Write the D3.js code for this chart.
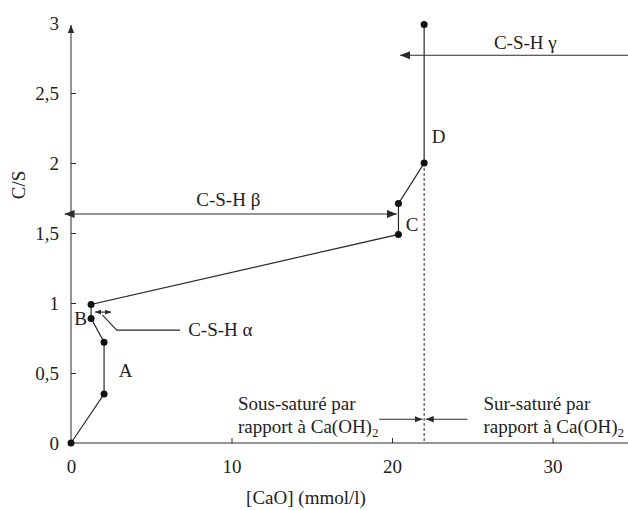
<!DOCTYPE html>
<html>
<head>
<meta charset="utf-8">
<script src="https://cdn.jsdelivr.net/npm/d3@7"></script>
<style>
  body { margin: 0; background: #fff; }
  text { font-family: "Liberation Serif", "Times New Roman", serif; fill: #222; }
</style>
</head>
<body>
<div id="chart"></div>
<script>
// C/S ratio vs [CaO] concentration
var caoValues = [0, 2.06, 2.06, 1.25, 1.25, 20.4, 20.4, 22.0, 22.0];
var csValues = [0, 0.35, 0.72, 0.89, 0.99, 1.49, 1.71, 2.0, 2.99];

var xTicks = [0, 10, 20, 30];
var yTicks = [0.5, 1, 1.5, 2, 2.5, 3];
var yTickLabels = ["0,5", "1", "1,5", "2", "2,5", "3"];

var zoneLabels = ["A", "B", "C", "D"];
var zoneX = [3.4, 0.6, 21.25, 22.9];
var zoneY = [0.52, 0.89, 1.56, 2.19];

var saturationLimit = 22.0;

var svgWidth = 628, svgHeight = 510;
var svg = d3.select("#chart").append("svg")
    .attr("width", svgWidth)
    .attr("height", svgHeight);

var x = d3.scaleLinear().domain([0, 34.7]).range([71, 628]);
var y = d3.scaleLinear().domain([0, 3]).range([443, 23]);

var ink = "#2a2a2a";
var fs = "19px";

// markers
var defs = svg.append("defs");
function marker(id, size) {
    defs.append("marker")
        .attr("id", id)
        .attr("viewBox", "0 0 10 10")
        .attr("refX", 10).attr("refY", 5)
        .attr("markerWidth", size).attr("markerHeight", size)
        .attr("markerUnits", "userSpaceOnUse")
        .attr("orient", "auto-start-reverse")
        .append("path")
        .attr("d", "M0,1 L10,5 L0,9 Z")
        .attr("fill", ink);
}
marker("arr", 10);
marker("arrSmall", 8);
marker("arrTiny", 6);

// axes
var xAxis = svg.append("g")
    .attr("transform", "translate(0," + y(0) + ")")
    .call(d3.axisBottom(x).tickValues(xTicks).tickSize(0).tickPadding(17).tickFormat(d3.format("d")));
xAxis.select(".domain").attr("d", "M" + x(0) + ",0H" + svgWidth).attr("stroke", ink);
xAxis.selectAll("text").style("font-size", fs).attr("fill", ink);
xAxis.selectAll(".tick").filter(function(d) { return d > 0; }).append("line")
    .attr("y1", 0).attr("y2", -5).attr("stroke", ink);

var yAxis = svg.append("g")
    .attr("transform", "translate(" + x(0) + ",0)")
    .call(d3.axisLeft(y).tickValues([0].concat(yTicks)).tickSize(0).tickPadding(12)
        .tickFormat(function(d, i) { return i === 0 ? "0" : yTickLabels[i - 1]; }));
yAxis.select(".domain").attr("d", "M0," + y(0) + "V" + (y(3) + 2)).attr("stroke", ink)
    .attr("marker-end", "url(#arrSmall)");
yAxis.selectAll("text").style("font-size", fs).attr("fill", ink);
yAxis.selectAll(".tick").filter(function(d) { return d > 0 && d < 3; }).append("line")
    .attr("x1", 0).attr("x2", 5).attr("stroke", ink);

svg.append("text")
    .attr("x", 306)
    .attr("y", 504)
    .attr("text-anchor", "middle")
    .style("font-size", fs)
    .text("[CaO] (mmol/l)");

svg.append("text")
    .attr("transform", "translate(25," + 185 + ") rotate(-90)")
    .attr("text-anchor", "middle")
    .style("font-size", fs)
    .text("C/S");

// saturation limit
svg.append("line")
    .attr("x1", x(saturationLimit)).attr("x2", x(saturationLimit))
    .attr("y1", y(2.0)).attr("y2", y(0))
    .attr("stroke", ink).attr("stroke-dasharray", "3,2");

// curve
var pts = caoValues.map(function(d, i) { return [d, csValues[i]]; });
svg.append("path")
    .datum(pts)
    .attr("fill", "none")
    .attr("stroke", ink)
    .attr("stroke-width", 1.2)
    .attr("d", d3.line().x(function(d) { return x(d[0]); }).y(function(d) { return y(d[1]); }));

svg.selectAll("circle.pt")
    .data(pts)
    .enter().append("circle")
    .attr("class", "pt")
    .attr("cx", function(d) { return x(d[0]); })
    .attr("cy", function(d) { return y(d[1]); })
    .attr("r", 3.5)
    .attr("fill", "#111");

// zone letters
svg.selectAll("text.zone")
    .data(zoneLabels)
    .enter().append("text")
    .attr("class", "zone")
    .attr("x", function(d, i) { return x(zoneX[i]); })
    .attr("y", function(d, i) { return y(zoneY[i]); })
    .attr("text-anchor", "middle")
    .attr("dy", "0.35em")
    .style("font-size", fs)
    .text(function(d) { return d; });

function arrowLine(x1, y1, x2, y2, start, end, mk) {
    var l = svg.append("line")
        .attr("x1", x(x1)).attr("y1", y(y1))
        .attr("x2", x(x2)).attr("y2", y(y2))
        .attr("stroke", ink).attr("stroke-width", 1.1);
    if (start) l.attr("marker-start", "url(#" + mk + ")");
    if (end) l.attr("marker-end", "url(#" + mk + ")");
}

// C-S-H gamma
arrowLine(34.7, 2.77, 20.5, 2.77, false, true, "arr");
svg.append("text").attr("x", x(28.3)).attr("y", y(2.77) - 6)
    .attr("text-anchor", "middle").style("font-size", fs).text("C-S-H γ");

// C-S-H beta
arrowLine(-0.4, 1.636, 20.3, 1.636, true, true, "arr");
svg.append("text").attr("x", x(9.8)).attr("y", y(1.636) - 8)
    .attr("text-anchor", "middle").style("font-size", fs).text("C-S-H β");

// C-S-H alpha
arrowLine(1.5, 0.935, 2.5, 0.935, true, true, "arrTiny");
svg.append("path")
    .attr("d", "M" + x(1.95) + "," + y(0.915) + "L" + x(2.85) + "," + y(0.806) + "H" + x(6.8))
    .attr("fill", "none").attr("stroke", ink).attr("stroke-width", 1.1);
svg.append("text").attr("x", x(7.3)).attr("y", y(0.806)).attr("dy", "0.33em")
    .style("font-size", fs).text("C-S-H α");

// saturation arrows
arrowLine(19.2, 0.17, saturationLimit - 0.1, 0.17, false, true, "arrSmall");
arrowLine(24.7, 0.17, saturationLimit + 0.1, 0.17, false, true, "arrSmall");

var u1 = svg.append("text").attr("x", x(10.4)).attr("y", 410).style("font-size", fs)
    .text("Sous-saturé par");
var u2 = svg.append("text").attr("x", x(10.4)).attr("y", 433).style("font-size", fs);
u2.append("tspan").text("rapport à Ca(OH)");
u2.append("tspan").attr("dy", 4).style("font-size", "13px").text("2");

var o1 = svg.append("text").attr("x", x(25.7)).attr("y", 410).style("font-size", fs)
    .text("Sur-saturé par");
var o2 = svg.append("text").attr("x", x(25.7)).attr("y", 433).style("font-size", fs);
o2.append("tspan").text("rapport à Ca(OH)");
o2.append("tspan").attr("dy", 4).style("font-size", "13px").text("2");
</script>
</body>
</html>
